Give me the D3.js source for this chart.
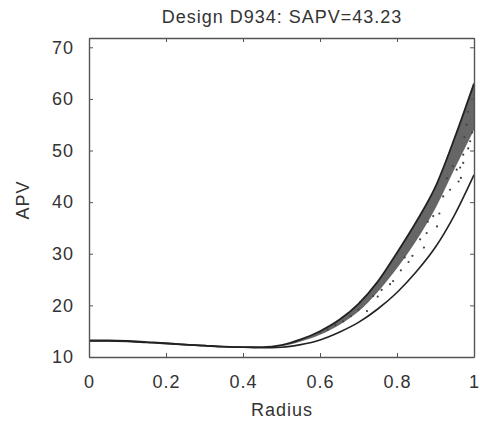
<!DOCTYPE html>
<html>
<head>
<meta charset="utf-8">
<script src="https://cdn.jsdelivr.net/npm/d3@7"></script>
<style>
  body { margin: 0; background: #fff; }
  text { font-family: "Liberation Sans", Arial, sans-serif; fill: #333; }
</style>
</head>
<body>
<svg id="chart" width="480" height="427"></svg>
<script>
// values
const radius = [0, 0.05, 0.1, 0.15, 0.2, 0.25, 0.3, 0.35, 0.4, 0.45, 0.5, 0.55, 0.6, 0.65, 0.7, 0.75, 0.8, 0.85, 0.9, 0.95, 1.0];
const lowerApv = [13.1, 13.1, 13.0, 12.8, 12.6, 12.4, 12.2, 12.0, 11.9, 11.8, 11.9, 12.4, 13.3, 14.8, 16.7, 19.3, 22.5, 26.5, 31.3, 37.6, 45.3];
const upperApv = [13.2, 13.2, 13.1, 12.9, 12.7, 12.4, 12.2, 12.0, 11.9, 11.9, 12.3, 13.4, 15.0, 17.2, 20.3, 24.6, 30.2, 36.2, 43.0, 52.5, 63.0];
// dense part of the sampled cloud (below the upper line)
const bandRadius = [0.47, 0.5, 0.55, 0.6, 0.65, 0.7, 0.75, 0.8, 0.85, 0.9, 0.95, 1.0];
const bandLowApv = [11.9, 12.1, 13.0, 14.3, 16.2, 18.8, 22.6, 27.2, 32.5, 38.8, 46.5, 54.0];
// loose points of the cloud
const dotR = [0.6, 0.62, 0.66, 0.7, 0.704, 0.722, 0.738, 0.76, 0.782, 0.79, 0.81, 0.83, 0.86, 0.877, 0.894, 0.904, 0.92, 0.938, 0.955, 0.96, 0.964, 0.966, 0.972, 0.972, 0.981, 0.984, 0.99, 0.995, 0.91, 0.87, 0.84, 0.75, 0.68, 0.64, 0.93, 0.945, 0.975, 0.985, 0.88, 0.82];
const dotApv = [14.8, 15.3, 16.9, 19.2, 20.6, 18.9, 21.8, 23.0, 24.1, 24.7, 26.8, 28.4, 32.8, 34.0, 37.3, 35.3, 41.1, 42.4, 46.3, 44.0, 46.7, 44.7, 47.6, 49.2, 55.0, 57.5, 51.8, 53.5, 37.8, 31.2, 29.6, 21.7, 17.9, 16.2, 44.6, 47.0, 52.6, 50.4, 36.2, 29.3];
const xTicks = [0, 0.2, 0.4, 0.6, 0.8, 1];
const yTicks = [10, 20, 30, 40, 50, 60, 70];

const svg = d3.select("#chart");
const mLeft = 89, mRight = 474, mTop = 38, mBottom = 357;

const x = d3.scaleLinear().domain([0, 1]).range([mLeft, mRight]);
const y = d3.scaleLinear().domain([10, 71.8]).range([mBottom, mTop]);

const plot = svg.append("g");

// cloud band
const band = d3.area()
  .x((d, i) => x(bandRadius[i]))
  .y0((d, i) => y(bandLowApv[i]))
  .y1(d => y(d))
  .curve(d3.curveMonotoneX);
const bandTop = bandRadius.map(r => {
  const i = d3.bisectLeft(radius, r);
  if (radius[i] === r) return upperApv[i];
  const t = (r - radius[i - 1]) / (radius[i] - radius[i - 1]);
  return upperApv[i - 1] + t * (upperApv[i] - upperApv[i - 1]);
});
plot.append("path")
  .attr("d", band(bandTop))
  .attr("fill", "#404040")
  .attr("opacity", 0.8);

plot.selectAll(".dot")
  .data(dotR)
  .enter()
  .append("circle")
  .attr("cx", d => x(d))
  .attr("cy", (d, i) => y(dotApv[i]))
  .attr("r", 1.1)
  .attr("fill", "#444");

const line = d3.line()
  .x((d, i) => x(radius[i]))
  .y(d => y(d))
  .curve(d3.curveMonotoneX);

plot.append("path")
  .attr("d", line(upperApv))
  .attr("fill", "none")
  .attr("stroke", "#222")
  .attr("stroke-width", 1.8);

plot.append("path")
  .attr("d", line(lowerApv))
  .attr("fill", "none")
  .attr("stroke", "#222")
  .attr("stroke-width", 1.6);

// frame and ticks
function styleAxis(g) {
  g.select(".domain").attr("stroke", "#555").attr("stroke-width", 1.4);
  g.selectAll(".tick line").attr("stroke", "#555");
  g.selectAll("text").style("font-size", "18px").style("letter-spacing", "1px").attr("fill", "#333");
}

svg.append("g")
  .attr("transform", "translate(0," + mBottom + ")")
  .call(d3.axisBottom(x).tickValues(xTicks).tickSizeInner(-4).tickSizeOuter(0).tickPadding(18).tickFormat(d3.format("")))
  .call(styleAxis);
svg.append("g")
  .attr("transform", "translate(0," + mTop + ")")
  .call(d3.axisTop(x).tickValues(xTicks).tickSizeInner(-4).tickSizeOuter(0).tickFormat(""))
  .call(styleAxis);
svg.append("g")
  .attr("transform", "translate(" + mLeft + ",0)")
  .call(d3.axisLeft(y).tickValues(yTicks).tickSizeInner(-4).tickSizeOuter(0).tickPadding(15))
  .call(styleAxis);
svg.append("g")
  .attr("transform", "translate(" + mRight + ",0)")
  .call(d3.axisRight(y).tickValues(yTicks).tickSizeInner(-4).tickSizeOuter(0).tickFormat(""))
  .call(styleAxis);

// titles
svg.append("text")
  .attr("x", 282).attr("y", 23)
  .attr("text-anchor", "middle")
  .style("font-size", "18px").style("letter-spacing", "1px")
  .text("Design D934: SAPV=43.23");

svg.append("text")
  .attr("x", 282).attr("y", 416)
  .attr("text-anchor", "middle")
  .style("font-size", "18px").style("letter-spacing", "1px")
  .text("Radius");

svg.append("text")
  .attr("transform", "translate(29,200) rotate(-90)")
  .attr("text-anchor", "middle")
  .style("font-size", "18px").style("letter-spacing", "1px")
  .text("APV");
</script>
</body>
</html>
